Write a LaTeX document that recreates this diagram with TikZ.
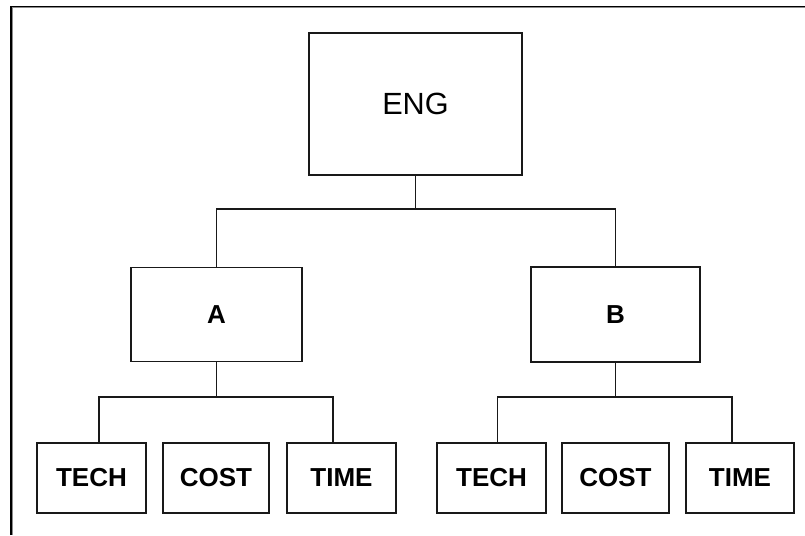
\documentclass[tikz,border=0pt]{standalone}
\usepackage{fontspec}
\setmainfont{Liberation Sans}
\begin{document}
\begin{tikzpicture}[x=0.75pt,y=-0.75pt,
  box/.style={draw=black!90,line width=1.1pt,fill=white,inner sep=0pt,
    font=\fontsize{19.5}{22}\selectfont\bfseries},
  topbox/.style={box,font=\fontsize{23}{26}\selectfont\mdseries},
  size/.style 2 args={minimum width=#1*0.75pt,minimum height=#2*0.75pt},
  link/.style={draw=black!90,line width=1.1pt}]
\useasboundingbox (0,0) rectangle (805,535);
% window frame
\draw[black,line width=1.2pt] (10.8,535) -- (10.8,6.5) -- (805,6.5);
\draw[black!45,line width=0.75pt] (12.3,535) -- (12.3,7.9) -- (805,7.9);
% boxes
\node[topbox,size={213}{142}] (eng) at (415.5,104) {ENG};
\node[box,size={171}{94}] (a) at (216.5,314.5) {A};
\node[box,size={169}{95}] (b) at (615.5,314.5) {B};
\node[box,size={109}{70}] (at) at (91.5,478) {TECH};
\node[box,size={106}{70}] (ac) at (216,478) {COST};
\node[box,size={109}{70}] (am) at (341.5,478) {TIME};
\node[box,size={109}{70}] (bt) at (491.5,478) {TECH};
\node[box,size={107}{70}] (bc) at (615.5,478) {COST};
\node[box,size={108}{70}] (bm) at (740,478) {TIME};
% connectors
\coordinate (j0) at (415.5,209);
\coordinate (ja) at (216.5,397);
\coordinate (jb) at (615.5,397);
\draw[link] (eng.south) -- (j0);
\draw[link] (a.north) -- (a.north |- j0) -- (b.north |- j0) -- (b.north);
\draw[link] (a.south) -- (ja);
\draw[link] ([xshift=5.6pt]at.north) |- (ja) -| ([xshift=-6.4pt]am.north);
\draw[link] (b.south) -- (jb);
\draw[link] ([xshift=4.5pt]bt.north) |- (jb) -| ([xshift=-6pt]bm.north);
\end{tikzpicture}
\end{document}
